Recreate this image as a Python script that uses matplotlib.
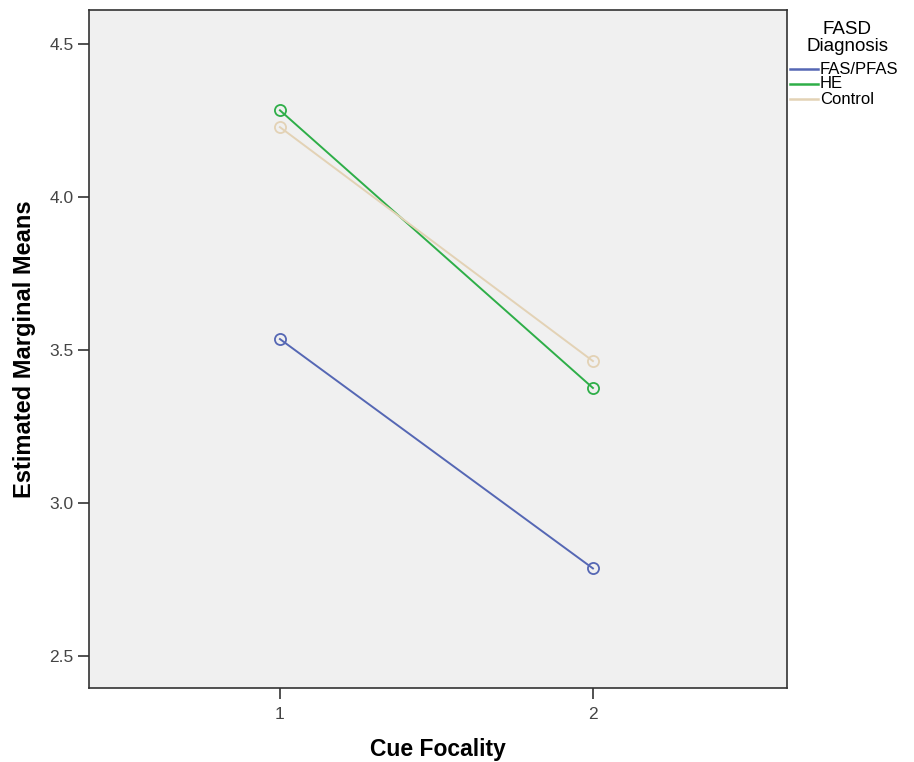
import matplotlib
matplotlib.use('Agg')
import matplotlib.pyplot as plt
from matplotlib.lines import Line2D

plt.rcParams['font.family'] = ['Liberation Sans', 'DejaVu Sans']

# data
focality = [1, 2]
groups = ['FAS/PFAS', 'HE', 'Control']
fas = [3.536, 2.786]
he = [4.284, 3.376]
control = [4.229, 3.464]
colors = ['#5567b4', '#2eae48', '#e3d2b5']

fig = plt.figure(figsize=(9.14, 7.62), dpi=100)
ax = fig.add_axes([89/914, 1-688/762, (787-89)/914, (688-10)/762])
ax.set_facecolor('#f0f0f0')

for vals, col in zip([fas, he, control], colors):
    ax.plot(focality, vals, color=col, lw=1.4, marker='o', ms=8,
            mfc='none', mec=col, mew=1.3)

ax.set_xlim(0.39, 2.62)
ax.set_ylim(2.395, 4.612)
ax.set_xticks([1, 2])
ax.set_yticks([2.5, 3.0, 3.5, 4.0, 4.5])
ax.set_yticklabels(['2.5', '3.0', '3.5', '4.0', '4.5'])
ax.tick_params(direction='out', length=8, width=1.2, labelsize=12.5,
               colors='#333333', labelcolor='#444444')
ax.tick_params(axis='x', pad=6)
ax.tick_params(axis='y', pad=3)
for s in ax.spines.values():
    s.set_color('#333333')
    s.set_linewidth(1.2)

ax.set_xlabel('Cue Focality', fontsize=16.5, fontweight='bold', labelpad=11)
ax.set_ylabel('Estimated Marginal Means', fontsize=17, fontweight='bold',
              labelpad=10)

# legend
fig.text(847/914, 1-38/762, 'FASD\nDiagnosis', ha='center', va='center',
         fontsize=13.5, linespacing=0.95)
for i, (g, col) in enumerate(zip(groups, colors)):
    y = 1 - (69 + i*15)/762
    fig.add_artist(Line2D([790/914, 818/914], [y, y], color=col, lw=1.8))
    fig.text(820/914, y, g, ha='left', va='center', fontsize=12)

fig.savefig('out.png', dpi=100)
